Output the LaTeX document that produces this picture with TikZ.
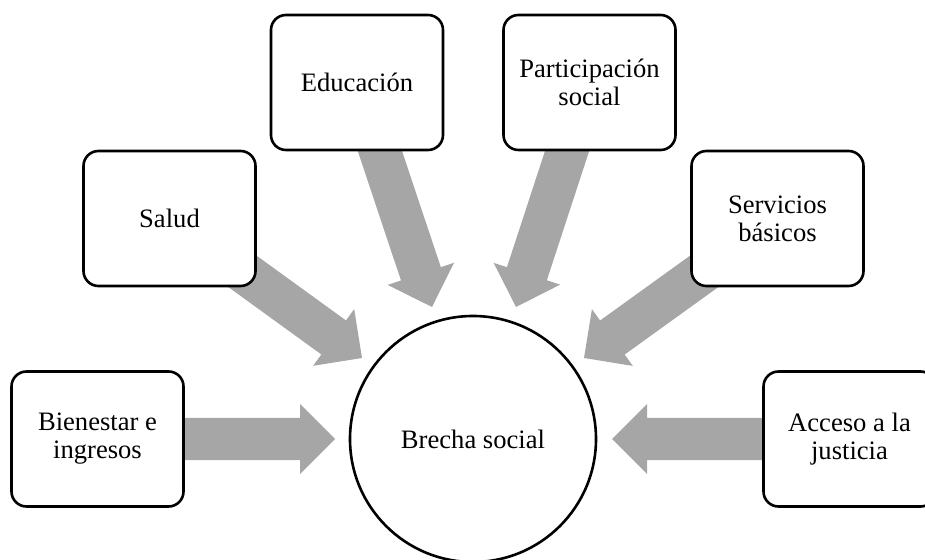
\documentclass[tikz,border=0pt]{standalone}
\usepackage{fontspec}
\setmainfont{Liberation Serif}
\usetikzlibrary{calc,backgrounds}
\definecolor{arrowgray}{HTML}{A6A6A6}
\tikzset{
  box/.style={draw=black, line width=1.3pt, rounded corners=7.5pt, fill=white,
    minimum width=86pt, minimum height=67.5pt, align=center, inner sep=2pt,
    font=\fontsize{13.3pt}{14pt}\selectfont},
  hub/.style={circle, draw=black, line width=1.3pt, fill=white,
    minimum size=123pt, inner sep=0pt, align=center,
    font=\fontsize{13.3pt}{14pt}\selectfont},
  arrowfill/.style={fill=arrowgray}
}
\newcommand{\fatarrow}[2]{%
  \coordinate (hb) at ($(#2)!17.5pt!(#1)$);
  \fill[arrowfill] ($(#1)!10.5pt!90:(#2)$) -- ($(hb)!10.5pt!-90:(#1)$)
    -- ($(hb)!17.5pt!-90:(#1)$) -- (#2) -- ($(hb)!17.5pt!90:(#1)$)
    -- ($(hb)!10.5pt!90:(#1)$) -- ($(#1)!10.5pt!-90:(#2)$) -- cycle;}
\begin{document}
\begin{tikzpicture}[x=0.5pt, y=-0.5pt]
  \useasboundingbox (0,0) rectangle (925,560);
  \clip (0,0) rectangle (925,560);
  \node[hub] (brecha) at (473,439) {Brecha social};
  \node[box] (bien) at (97.5,439) {Bienestar e\\ingresos};
  \node[box] (salud) at (169.5,218.5) {Salud};
  \node[box] (edu) at (357,82.5) {Educación};
  \node[box] (part) at (589.5,82.5) {Participación\\social};
  \node[box] (serv) at (777.5,218.5) {Servicios\\básicos};
  \node[box] (acc) at (849.5,439) {Acceso a la\\justicia};
  \coordinate (tB) at (335,439);
  \coordinate (tA) at (612,439);
  \coordinate (tE) at (432,307);
  \coordinate (tP) at (516,307);
  \coordinate (tS) at (362,358);
  \coordinate (tV) at (584,358);
  \begin{scope}[on background layer]
    \fatarrow{bien.center}{tB}
    \fatarrow{acc.center}{tA}
    \fatarrow{edu.center}{tE}
    \fatarrow{part.center}{tP}
    \fatarrow{salud.center}{tS}
    \fatarrow{serv.center}{tV}
  \end{scope}
\end{tikzpicture}
\end{document}
